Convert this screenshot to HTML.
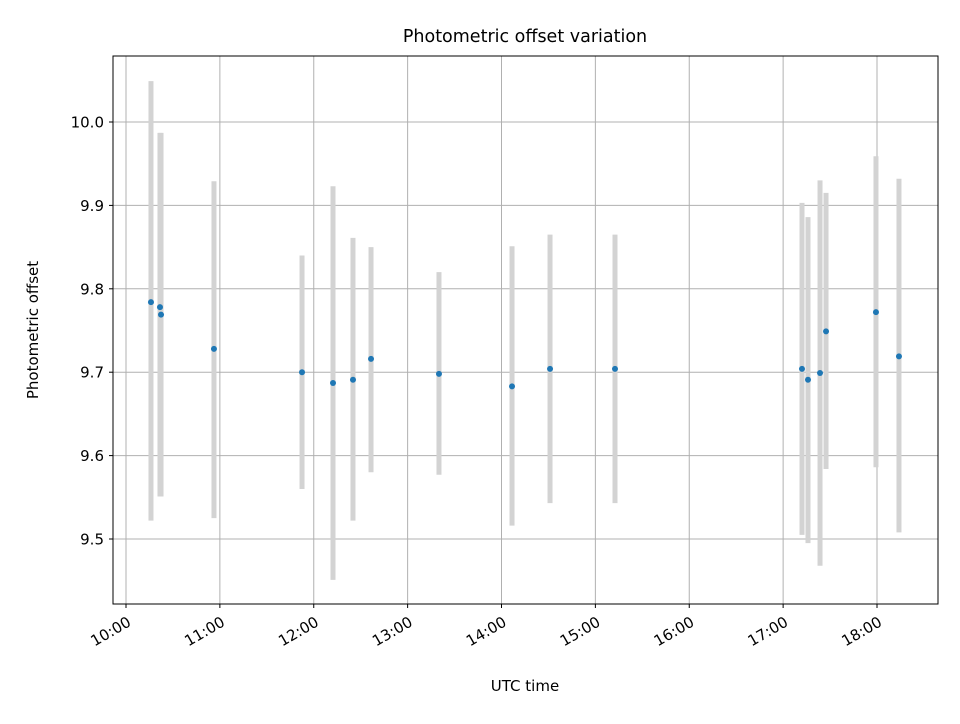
<!DOCTYPE html>
<html><head><meta charset="utf-8"><style>
body{margin:0;background:#fff;font-family:"DejaVu Sans","Liberation Sans",sans-serif;}
</style></head><body>
<svg id="chart" width="960" height="720" xmlns="http://www.w3.org/2000/svg" font-family="DejaVu Sans, Liberation Sans, sans-serif">
<rect width="960" height="720" fill="#fff"/>
<g id="grid"></g>
<g id="bars"></g>
<g id="pts"></g>
<rect x="113" y="56" width="825" height="548" fill="none" stroke="#000" stroke-width="1"/>
<g id="ticks"></g>
<text x="525" y="42" text-anchor="middle" font-size="17.5">Photometric offset variation</text>
<text x="525" y="691" text-anchor="middle" font-size="15">UTC time</text>
<text transform="translate(38,330) rotate(-90)" text-anchor="middle" font-size="15">Photometric offset</text>
</svg>
<script>
const times=[10.266,10.362,10.373,10.937,11.875,12.205,12.418,12.61,13.334,14.112,14.517,15.209,17.201,17.265,17.393,17.457,17.989,18.234];
const values=[9.784,9.778,9.769,9.728,9.700,9.687,9.691,9.716,9.698,9.683,9.704,9.704,9.704,9.691,9.699,9.749,9.772,9.719];
const errTop=[10.049,9.987,9.987,9.929,9.84,9.923,9.861,9.85,9.82,9.851,9.865,9.865,9.903,9.886,9.930,9.915,9.959,9.932];
const errBottom=[9.522,9.551,9.551,9.525,9.56,9.451,9.522,9.58,9.577,9.516,9.543,9.543,9.505,9.495,9.468,9.584,9.586,9.508];
const xTicks=[10,11,12,13,14,15,16,17,18];
const xTickLabels=["10:00","11:00","12:00","13:00","14:00","15:00","16:00","17:00","18:00"];
const yTicks=[9.5,9.6,9.7,9.8,9.9,10.0];
const yTickLabels=["9.5","9.6","9.7","9.8","9.9","10.0"];
const X=h=>126+(h-10)*93.875;
const Y=v=>122+(10-v)*834;
const NS="http://www.w3.org/2000/svg";
function mk(tag,attrs,parent){const e=document.createElementNS(NS,tag);for(const k in attrs)e.setAttribute(k,attrs[k]);parent.appendChild(e);return e;}
const grid=document.getElementById('grid'),ticks=document.getElementById('ticks'),bars=document.getElementById('bars'),pts=document.getElementById('pts');
xTicks.forEach((t,i)=>{const x=X(t);
 const g=mk('line',{x1:x,x2:x,y1:56,y2:604,stroke:'#b0b0b0','stroke-width':1},grid);
 
 const tk=mk('line',{x1:x,x2:x,y1:604,y2:608,stroke:'#000'},ticks);
 
 const tx=mk('text',{transform:`translate(${x+6},${625}) rotate(-30)`,'text-anchor':'end','font-size':15},ticks);
 tx.textContent=xTickLabels[i];
 });
yTicks.forEach((t,i)=>{const y=Y(t);
 const g=mk('line',{x1:113,x2:938,y1:y,y2:y,stroke:'#b0b0b0','stroke-width':1},grid);
 
 const tk=mk('line',{x1:109,x2:113,y1:y,y2:y,stroke:'#000'},ticks);
 
 const tx=mk('text',{x:104,y:y+5.5,'text-anchor':'end','font-size':15},ticks);
 tx.textContent=yTickLabels[i];
 });
times.forEach((t,i)=>{const x=X(t);
 const b=mk('line',{x1:x,x2:x,y1:Y(errTop[i]),y2:Y(errBottom[i]),stroke:'#d3d3d3','stroke-width':5},bars);
 
 const p=mk('circle',{cx:x,cy:Y(values[i]),r:3,fill:'#1f77b4'},pts);
 });
</script>
</body></html>
